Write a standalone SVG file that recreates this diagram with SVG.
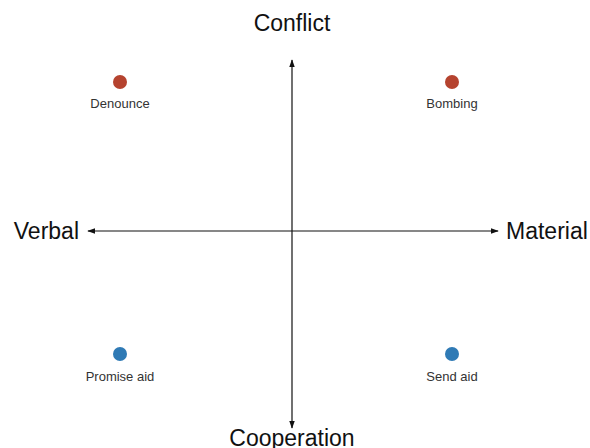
<svg xmlns="http://www.w3.org/2000/svg" width="590" height="448" viewBox="0 0 590 448">
<style>
.axis{stroke:#111;stroke-width:1.2;fill:none}
.big{font-family:"Liberation Sans",Arial,sans-serif;font-size:23px;fill:#111}
.small{font-family:"Liberation Sans",Arial,sans-serif;font-size:13px;fill:#333;text-anchor:middle}
.conflict{fill:#b5432f}
.coop{fill:#2f7ab5}
</style>
<defs>
<marker id="arr" viewBox="0 0 10 10" refX="9" refY="5" markerWidth="8" markerHeight="8" markerUnits="userSpaceOnUse" orient="auto-start-reverse">
<path d="M0,1.5 L10,5 L0,8.5 Z" fill="#111"/>
</marker>
</defs>
<rect width="590" height="448" fill="#fff"/>
<g id="connectors">
<line class="axis" x1="292" y1="428" x2="292" y2="60" marker-end="url(#arr)" marker-start="url(#arr)"/>
<line class="axis" x1="88" y1="231" x2="498" y2="231" marker-end="url(#arr)" marker-start="url(#arr)"/>
</g>
<g id="label-conflict"><text class="big" x="292" y="31" text-anchor="middle">Conflict</text></g>
<g id="label-cooperation"><text class="big" x="292" y="446" text-anchor="middle">Cooperation</text></g>
<g id="label-verbal"><text class="big" x="79" y="239" text-anchor="end">Verbal</text></g>
<g id="label-material"><text class="big" x="506" y="239">Material</text></g>
<g id="denounce"><circle class="conflict" cx="120" cy="82" r="7"/><text class="small" x="120" y="108">Denounce</text></g>
<g id="bombing"><circle class="conflict" cx="452" cy="82" r="7"/><text class="small" x="452" y="108">Bombing</text></g>
<g id="promise-aid"><circle class="coop" cx="120" cy="354" r="7"/><text class="small" x="120" y="381">Promise aid</text></g>
<g id="send-aid"><circle class="coop" cx="452" cy="354" r="7"/><text class="small" x="452" y="381">Send aid</text></g>
</svg>
